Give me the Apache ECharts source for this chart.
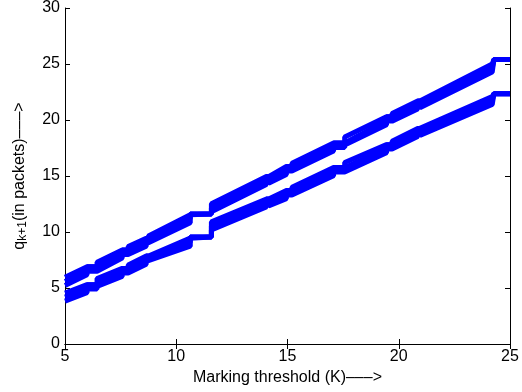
<!DOCTYPE html>
<html>
<head>
<meta charset="utf-8">
<script src="https://cdn.jsdelivr.net/npm/echarts@6/dist/echarts.min.js"></script>
<style>html,body{margin:0;padding:0;background:#fff}#c{width:522px;height:392px}</style>
</head>
<body>
<div id="c"></div>
<script>
// Marking threshold K (breakpoints, repeated where a line steps vertically)
const K = [5, 5.99, 5.99, 6.44, 6.44, 7.57, 7.57, 7.84, 7.84, 8.65, 8.65, 8.75, 8.75, 10.63, 10.63, 11.58, 11.58, 14.05, 14.05, 14.15, 14.15, 14.95, 14.95, 15.2, 15.2, 17.07, 17.07, 17.57, 17.57, 19.45, 19.45, 19.7, 19.7, 20.85, 20.85, 20.95, 20.95, 24.2, 24.28, 25];

// Upper band (three traces)
const upperA = [5.95, 6.9, 6.9, 6.9, 7.3, 8.4, 8.4, 8.4, 8.7, 9.45, 9.45, 9.45, 9.65, 11.55, 11.6, 11.6, 12.53, 14.95, 14.95, 14.95, 15.07, 15.85, 15.85, 15.85, 16.13, 17.95, 17.95, 17.95, 18.48, 20.3, 20.3, 20.3, 20.58, 21.7, 21.7, 21.7, 21.82, 25.0, 25.4, 25.4];
const upperB = [5.59, 6.54, 6.9, 6.9, 6.94, 8.04, 8.4, 8.4, 8.34, 9.09, 9.45, 9.45, 9.29, 11.19, 11.6, 11.6, 12.17, 14.59, 14.95, 14.95, 14.71, 15.49, 15.85, 15.85, 15.77, 17.59, 17.95, 17.95, 18.12, 19.94, 20.3, 20.3, 20.22, 21.34, 21.7, 21.7, 21.46, 24.64, 25.4, 25.4];
const upperC = [5.23, 6.18, 6.5, 6.5, 6.58, 7.68, 8.0, 8.0, 7.98, 8.73, 9.05, 9.05, 8.93, 10.83, 11.6, 11.6, 11.81, 14.23, 14.55, 14.55, 14.35, 15.13, 15.45, 15.45, 15.41, 17.23, 17.55, 17.55, 17.76, 19.58, 19.9, 19.9, 19.86, 20.98, 21.3, 21.3, 21.1, 24.28, 25.4, 25.4];

// Lower band (three traces)
const lowerA = [4.55, 5.3, 5.3, 5.3, 5.85, 6.75, 6.75, 6.75, 7.05, 7.85, 7.85, 7.85, 8.0, 9.45, 9.55, 9.55, 10.9, 12.95, 12.95, 12.95, 13.05, 13.7, 13.7, 13.7, 14.0, 15.75, 15.75, 15.75, 16.2, 17.8, 17.8, 17.8, 18.1, 19.25, 19.25, 19.25, 19.35, 22.1, 22.35, 22.35];
const lowerB = [4.19, 4.94, 5.3, 5.3, 5.49, 6.39, 6.75, 6.75, 6.69, 7.49, 7.85, 7.85, 7.64, 9.09, 9.55, 9.55, 10.54, 12.59, 12.95, 12.95, 12.69, 13.34, 13.7, 13.7, 13.64, 15.39, 15.75, 15.75, 15.84, 17.44, 17.8, 17.8, 17.74, 18.89, 19.25, 19.25, 18.99, 21.74, 22.35, 22.35];
const lowerC = [3.83, 4.58, 4.9, 4.9, 5.13, 6.03, 6.35, 6.35, 6.33, 7.13, 7.45, 7.45, 7.28, 8.73, 9.55, 9.55, 10.18, 12.23, 12.55, 12.55, 12.33, 12.98, 13.3, 13.3, 13.28, 15.03, 15.35, 15.35, 15.48, 17.08, 17.4, 17.4, 17.38, 18.53, 18.85, 18.85, 18.63, 21.38, 22.35, 22.35];

const xTicks = [5, 10, 15, 20, 25];
const yTicks = [0, 5, 10, 15, 20, 25, 30];

const traces = [upperA, upperB, upperC, lowerA, lowerB, lowerC];
const FONT = 'Liberation Sans, Arial, Helvetica, sans-serif';

const chart = echarts.init(document.getElementById('c'), null, {renderer: 'canvas'});
const axisCommon = {
  type: 'value',
  axisLine: {show: true, lineStyle: {color: '#000', width: 1}},
  axisTick: {show: true, inside: true, length: 5, lineStyle: {color: '#000'}},
  splitLine: {show: false},
  axisLabel: {color: '#000', fontFamily: FONT, fontSize: 16}
};
chart.setOption({
  animation: false,
  backgroundColor: '#fff',
  grid: {left: 65, right: 12, top: 5, bottom: 48, containLabel: false},
  xAxis: [
    Object.assign({}, axisCommon, {
      position: 'bottom', min: xTicks[0], max: xTicks[xTicks.length - 1], interval: 5,
      axisLabel: Object.assign({}, axisCommon.axisLabel, {margin: 5}),
      name: 'Marking threshold (K)\u2013\u2013\u2013>', nameLocation: 'middle', nameGap: 23,
      nameTextStyle: {color: '#000', fontFamily: FONT, fontSize: 16}
    }),
    Object.assign({}, axisCommon, {
      position: 'top', min: xTicks[0], max: xTicks[xTicks.length - 1], interval: 5,
      axisLabel: {show: false}
    })
  ],
  yAxis: [
    Object.assign({}, axisCommon, {
      position: 'left', min: yTicks[0], max: yTicks[yTicks.length - 1], interval: 5,
      axisLabel: Object.assign({}, axisCommon.axisLabel, {margin: 5}),
      name: '{a|q}{b|k+1}{a|(in packets)\u2013\u2013\u2013>}', nameLocation: 'middle', nameGap: 36, nameRotate: 90,
      nameTextStyle: {
        color: '#000', fontFamily: FONT, fontSize: 16,
        rich: {
          a: {color: '#000', fontFamily: FONT, fontSize: 16},
          b: {color: '#000', fontFamily: FONT, fontSize: 12, verticalAlign: 'bottom', padding: [6, 0, 0, 0]}
        }
      }
    }),
    Object.assign({}, axisCommon, {
      position: 'right', min: yTicks[0], max: yTicks[yTicks.length - 1], interval: 5,
      axisLabel: {show: false}
    })
  ],
  series: traces.map(arr => ({
    type: 'line',
    xAxisIndex: 0,
    yAxisIndex: 0,
    data: K.map((k, i) => [k, arr[i]]),
    showSymbol: false,
    symbol: 'none',
    lineStyle: {color: '#0000ff', width: 5, join: 'bevel', cap: 'butt'},
    clip: true,
    silent: true
  }))
});
</script>
</body>
</html>
